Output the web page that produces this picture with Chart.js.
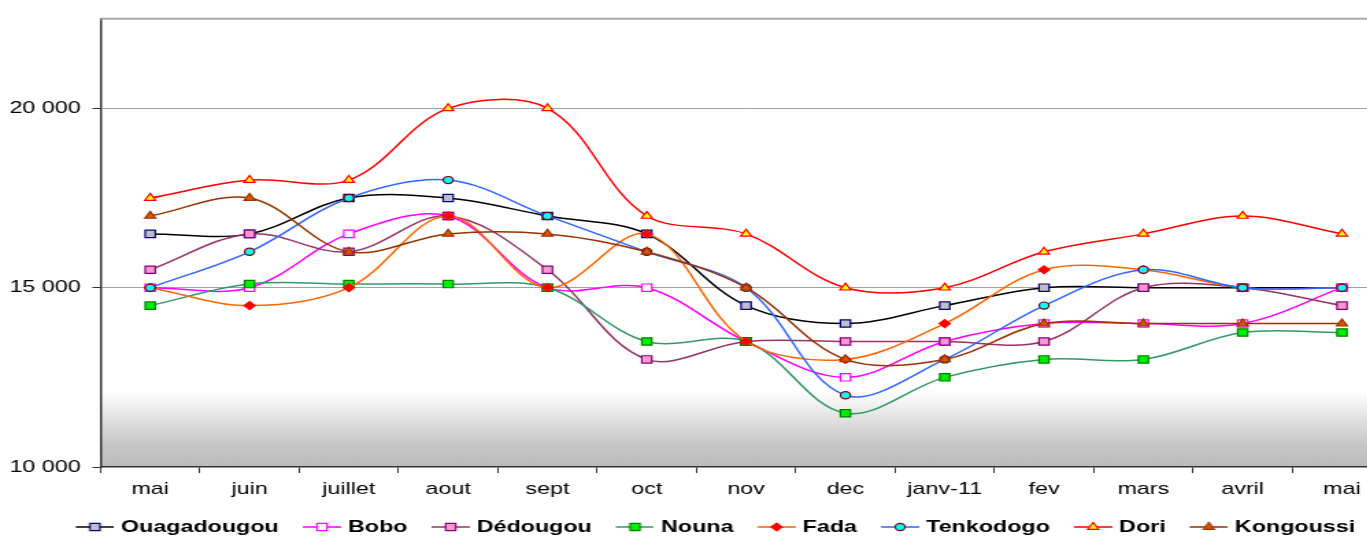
<!DOCTYPE html>
<html>
<head>
<meta charset="utf-8">
<script src="https://cdn.jsdelivr.net/npm/chart.js@4.4.1/dist/chart.umd.min.js"></script>
<style>
  html, body { margin: 0; padding: 0; background: #fff; overflow: hidden; width: 1367px; height: 538px; }
  /* the source picture is stretched sideways, so the chart is drawn narrow and widened */
  #wrap { width: 1030px; height: 538px; transform: scaleX(1.37); transform-origin: 0 0; }
</style>
</head>
<body>
<div id="wrap"><canvas id="myChart" width="1030" height="538"></canvas></div>
<script>
const months = ["mai", "juin", "juillet", "aout", "sept", "oct", "nov", "dec", "janv-11", "fev", "mars", "avril", "mai"];

const ouagadougou = [16500, 16500, 17500, 17500, 17000, 16500, 14500, 14000, 14500, 15000, 15000, 15000, 15000];
const bobo        = [15000, 15000, 16500, 17000, 15000, 15000, 13500, 12500, 13500, 14000, 14000, 14000, 15000];
const dedougou    = [15500, 16500, 16000, 17000, 15500, 13000, 13500, 13500, 13500, 13500, 15000, 15000, 14500];
const nouna       = [14500, 15100, 15100, 15100, 15000, 13500, 13500, 11500, 12500, 13000, 13000, 13750, 13750];
const fada        = [15000, 14500, 15000, 17000, 15000, 16500, 13500, 13000, 14000, 15500, 15500, 15000, 15000];
const tenkodogo   = [15000, 16000, 17500, 18000, 17000, 16000, 15000, 12000, 13000, 14500, 15500, 15000, 15000];
const dori        = [17500, 18000, 18000, 20000, 20000, 17000, 16500, 15000, 15000, 16000, 16500, 17000, 16500];
const kongoussi   = [17000, 17500, 16000, 16500, 16500, 16000, 15000, 13000, 13000, 14000, 14000, 14000, 14000];

const yMin = 10000;
const yMax = 22500;
const yTickValues = [10000, 15000, 20000];

const seriesNames = ["Ouagadougou", "Bobo", "Dédougou", "Nouna", "Fada", "Tenkodogo", "Dori", "Kongoussi"];
const seriesValues = [ouagadougou, bobo, dedougou, nouna, fada, tenkodogo, dori, kongoussi];

// line colour, marker shape, marker radius, marker fill, marker border
const seriesStyles = [
  { line: "#000000", shape: "rect",     r: 5.2, fill: "#c0c0c0", border: "#000080" },
  { line: "#ff00ff", shape: "rect",     r: 5.2, fill: "#ffffff", border: "#ff00ff" },
  { line: "#993366", shape: "rect",     r: 5.2, fill: "#ff99cc", border: "#800080" },
  { line: "#339966", shape: "rect",     r: 5.2, fill: "#00ee00", border: "#008000" },
  { line: "#ff6600", shape: "rectRot",  r: 4,   fill: "#ff0000", border: "#ff0000" },
  { line: "#3366ff", shape: "circle",   r: 3.6, fill: "#00ffff", border: "#800000" },
  { line: "#ff0000", shape: "triangle", r: 4.6, fill: "#ffff00", border: "#ff0000" },
  { line: "#993300", shape: "triangle", r: 4.6, fill: "#dd5500", border: "#993300" },
];

const fontFamily = '"Liberation Sans", Arial, sans-serif';

function fmt(v) {
  return String(v).replace(/\B(?=(\d{3})+(?!\d))/g, " ");
}

function drawMarker(ctx, shape, r, x, y) {
  ctx.beginPath();
  if (shape === "rect") {
    const s = r * Math.SQRT1_2;
    ctx.rect(x - s, y - s, 2 * s, 2 * s);
  } else if (shape === "circle") {
    ctx.arc(x, y, r, 0, Math.PI * 2);
  } else if (shape === "rectRot") {
    ctx.moveTo(x - r, y); ctx.lineTo(x, y - r); ctx.lineTo(x + r, y); ctx.lineTo(x, y + r);
    ctx.closePath();
  } else {
    ctx.moveTo(x, y - r); ctx.lineTo(x + r * 0.866, y + r / 2); ctx.lineTo(x - r * 0.866, y + r / 2);
    ctx.closePath();
  }
  ctx.fill();
  ctx.stroke();
}

// legend swatch: a bit of line with the marker on it, transparent gap on the left
function legendSwatch(st) {
  const c = document.createElement("canvas");
  c.width = 46;
  c.height = 14;
  const g = c.getContext("2d");
  g.strokeStyle = st.line;
  g.lineWidth = 1.5;
  g.beginPath(); g.moveTo(18, 7); g.lineTo(46, 7); g.stroke();
  g.fillStyle = st.fill;
  g.strokeStyle = st.border;
  g.lineWidth = 1.2;
  drawMarker(g, st.shape, st.r, 32, 7);
  return c;
}

const swatches = seriesStyles.map(legendSwatch);

const datasets = seriesNames.map((name, i) => ({
  label: name,
  data: seriesValues[i],
  borderColor: seriesStyles[i].line,
  backgroundColor: seriesStyles[i].fill,
  borderWidth: 1.5,
  tension: 0.35,
  fill: false,
  pointStyle: seriesStyles[i].shape,
  pointRadius: seriesStyles[i].r,
  pointBackgroundColor: seriesStyles[i].fill,
  pointBorderColor: seriesStyles[i].border,
  pointBorderWidth: 1.2,
  order: seriesNames.length - i,
}));

const plotBackground = {
  id: "plotBackground",
  beforeDraw(chart) {
    const { ctx, chartArea: a } = chart;
    ctx.save();
    ctx.fillStyle = "#ffffff";
    ctx.fillRect(0, 0, chart.width, chart.height);
    const h = 76;
    const g = ctx.createLinearGradient(0, a.bottom - h, 0, a.bottom);
    g.addColorStop(0, "#ffffff");
    g.addColorStop(0.75, "#c4c4c4");
    g.addColorStop(1, "#bcbcbc");
    ctx.fillStyle = g;
    ctx.fillRect(a.left, a.bottom - h, a.right - a.left, h);
    ctx.restore();
  },
  beforeDatasetsDraw(chart) {
    const { ctx, chartArea: a } = chart;
    ctx.save();
    ctx.strokeStyle = "#a8a8a8";
    ctx.lineWidth = 2;
    ctx.beginPath();
    ctx.moveTo(a.left, a.top);
    ctx.lineTo(a.right, a.top);
    ctx.stroke();
    ctx.restore();
  },
};

const config = {
  type: "line",
  data: { labels: months, datasets: datasets },
  options: {
    responsive: false,
    animation: false,
    layout: { padding: { top: 16, right: 0, bottom: -7.5, left: 0 } },
    plugins: {
      tooltip: { enabled: false },
      legend: {
        position: "bottom",
        labels: {
          usePointStyle: true,
          pointStyleWidth: 39,
          padding: 3,
          color: "#000",
          font: { family: fontFamily, size: 17, weight: "bold" },
          generateLabels: () => seriesNames.map((name, i) => ({
            text: name,
            pointStyle: swatches[i],
            datasetIndex: i,
            hidden: false,
            fillStyle: "rgba(0,0,0,0)",
            strokeStyle: "rgba(0,0,0,0)",
            lineWidth: 0,
          })),
        },
      },
    },
    scales: {
      x: {
        type: "category",
        offset: true,
        grid: { offset: true, drawOnChartArea: false, drawTicks: true, tickLength: 6, tickColor: "#333" },
        border: { color: "#333", width: 1.5 },
        ticks: { color: "#000", padding: 6, maxRotation: 0, autoSkip: false, font: { family: fontFamily, size: 17 } },
        afterFit: (s) => { s.height = 48.5; },
      },
      y: {
        min: yMin,
        max: yMax,
        afterBuildTicks: (s) => { s.ticks = yTickValues.map((v) => ({ value: v })); },
        grid: {
          color: (c) => (c.tick && c.tick.value > yMin ? "#a0a0a0" : "rgba(0,0,0,0)"),
          tickColor: "#333",
          lineWidth: 1,
          tickLength: 6,
        },
        border: { color: "#333", width: 1.5 },
        ticks: {
          autoSkip: false,
          padding: 8.5,
          color: "#000",
          font: { family: fontFamily, size: 17 },
          callback: (v) => fmt(v),
        },
        afterFit: (s) => { s.width = 73.4; },
      },
      y2: {
        position: "right",
        display: true,
        grid: { display: false, drawTicks: false },
        border: { display: false },
        ticks: { display: false },
        afterFit: (s) => { s.width = 14.2; },
      },
    },
  },
  plugins: [plotBackground],
};

const myChart = new Chart(document.getElementById("myChart"), config);
</script>
</body>
</html>
